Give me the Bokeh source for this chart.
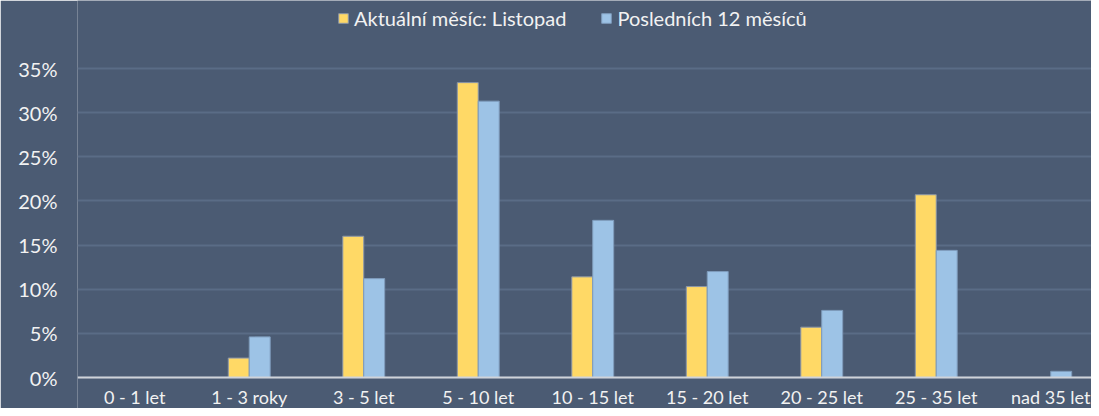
from bokeh.plotting import figure
from bokeh.models import (ColumnDataSource, Range1d, FixedTicker, NumeralTickFormatter,
                          Legend, LegendItem, LabelSet, Span)
from bokeh.core.properties import value
from bokeh.transform import dodge
from bokeh.embed import file_html
from bokeh.resources import INLINE

categories = ["0 - 1 let", "1 - 3 roky", "3 - 5 let", "5 - 10 let", "10 - 15 let",
              "15 - 20 let", "20 - 25 let", "25 - 35 let", "nad 35 let"]
current_month = [0.0, 0.022, 0.160, 0.334, 0.114, 0.103, 0.057, 0.207, 0.0]
last_12_months = [0.0, 0.046, 0.112, 0.313, 0.178, 0.120, 0.076, 0.144, 0.007]
series_names = ["Aktuální měsíc: Listopad", "Posledních 12 měsíců"]
y_ticks = [0, 0.05, 0.10, 0.15, 0.20, 0.25, 0.30, 0.35]

BG = "#4b5b73"
FONT = "Lato"
FS = "20px"
FS_X = "18px"
TXT = "#f2f2f2"

# layout: value axis 0..35 % spans 309 px; frame also covers legend band above and label band below
PX_PER_UNIT = 309 / 0.35
y_start = -31 / PX_PER_UNIT
y_end = 0.35 + 68 / PX_PER_UNIT

src = ColumnDataSource(dict(x=list(range(len(categories))), cur=current_month,
                            last=last_12_months, base=[0.0] * len(categories),
                            label=categories))

p = figure(width=1091, height=408, output_backend="svg", toolbar_location=None,
           x_range=Range1d(-0.5, 8.356), y_range=Range1d(y_start, y_end),
           min_border_left=77, min_border_right=0, min_border_top=0, min_border_bottom=0)
p.background_fill_color = BG
p.border_fill_color = BG
p.outline_line_color = None

bw = 0.183
r1 = p.vbar(x=dodge("x", -bw / 2), top="cur", width=bw, source=src,
            fill_color="#ffd966", line_color="#8a96a8", line_width=1)
r2 = p.vbar(x=dodge("x", bw / 2), top="last", width=bw, source=src,
            fill_color="#9dc3e6", line_color="#7f9cbc", line_width=1)

p.xgrid.grid_line_color = None
p.ygrid.grid_line_color = "#5a6c86"
p.ygrid.grid_line_width = 2
p.ygrid.ticker = FixedTicker(ticks=y_ticks)

p.yaxis.ticker = FixedTicker(ticks=y_ticks)
p.yaxis.formatter = NumeralTickFormatter(format="0%")
p.yaxis.axis_line_color = None
p.yaxis.major_tick_line_color = None
p.yaxis.minor_tick_line_color = None
p.yaxis.major_tick_out = 0
p.yaxis.major_tick_in = 0
p.yaxis.major_label_standoff = 20
p.yaxis.major_label_text_font = FONT
p.yaxis.major_label_text_font_size = FS
p.yaxis.major_label_text_color = TXT

p.xaxis.visible = False
p.add_layout(Span(location=0, dimension="width", line_color="#cfd3d9", line_width=2))

labels = LabelSet(x="x", y="base", text="label", source=src, y_offset=-26,
                  text_align="center", text_baseline="alphabetic",
                  text_font=value(FONT), text_font_size=value(FS_X), text_color=TXT)
p.add_layout(labels)

legend = Legend(items=[LegendItem(label=series_names[0], renderers=[r1]),
                       LegendItem(label=series_names[1], renderers=[r2])],
                orientation="horizontal", location=(260, 378),
                glyph_width=12, glyph_height=12, label_standoff=5, spacing=34,
                padding=0, margin=0, label_height=24,
                label_text_font=FONT, label_text_font_size=FS, label_text_color=TXT,
                background_fill_alpha=0, border_line_color=None)
p.add_layout(legend, "center")

open("out.html", "w").write(file_html(p, INLINE))
